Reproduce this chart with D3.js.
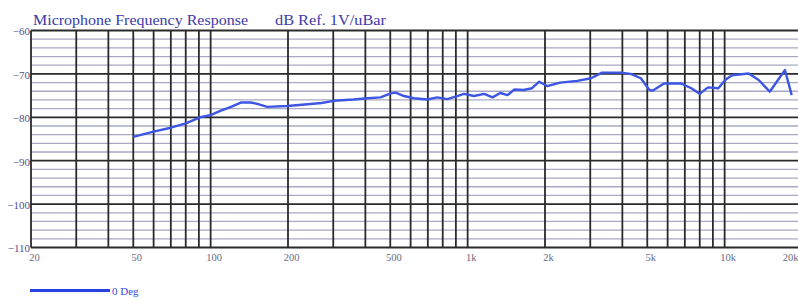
<!DOCTYPE html>
<html><head><meta charset="utf-8">
<script src="https://cdn.jsdelivr.net/npm/d3@7"></script>
<style>html,body{margin:0;padding:0;background:#fff;}svg{display:block;}</style>
</head><body>
<svg id="chart" width="798" height="300"></svg>
<script>
const titleText = "Microphone Frequency Response";
const unitText = "dB Ref. 1V/uBar";
const seriesName = "0 Deg";
const freqs = [50,60,70,80,91,100,109,120,131,143,152,166,199,238,270,301,360,407,458,502,525,565,618,697,762,833,910,968,1058,1160,1250,1340,1430,1520,1650,1780,1900,2040,2290,2670,3020,3330,3940,4310,4720,5080,5240,5810,6760,7420,8000,8610,9450,10050,10670,12400,13570,14980,17170,18230];
const dbValues = [-84.5,-83.3,-82.4,-81.4,-80.0,-79.5,-78.5,-77.6,-76.6,-76.6,-76.9,-77.6,-77.4,-77.0,-76.7,-76.2,-75.9,-75.6,-75.4,-74.5,-74.3,-75.1,-75.6,-75.9,-75.4,-75.8,-75.1,-74.6,-75.1,-74.6,-75.4,-74.4,-74.9,-73.6,-73.7,-73.3,-71.8,-72.8,-72.0,-71.6,-71.0,-69.7,-69.7,-70.0,-71.0,-73.6,-73.9,-72.2,-72.2,-73.3,-74.6,-73.1,-73.3,-71.4,-70.3,-69.9,-71.4,-74.1,-69.1,-74.9];
const xTickValues = [20,50,100,200,500,1000,2000,5000,10000,20000];
const xTickLabels = ["20","50","100","200","500","1k","2k","5k","10k","20k"];
const xGridValues = [20,30,40,50,60,70,80,90,100,200,300,400,500,600,700,800,900,1000,2000,3000,4000,5000,6000,7000,8000,9000,10000,20000];
const yMajor = [-60,-70,-80,-90,-100,-110];
const yMinor = [-62,-64,-66,-68,-72,-74,-76,-78,-82,-84,-86,-88,-92,-94,-96,-98,-102,-104,-106,-108];

const svg = d3.select("#chart");
const left = 31, decade = 257;
const x = d3.scaleLog().domain([20,20000]).range([left, left + 3*decade]);
const y = d3.scaleLinear().domain([-110,-60]).range([247.5,30.5]);

const g = svg.append("g");
g.selectAll("line.ymin").data(yMinor).join("line")
  .attr("x1", left).attr("x2", 800)
  .attr("y1", d=>y(d)).attr("y2", d=>y(d))
  .attr("stroke", "#a8a8c4").attr("stroke-width", 1.3);
g.selectAll("line.xg").data(xGridValues).join("line")
  .attr("x1", d=>x(d)).attr("x2", d=>x(d))
  .attr("y1", y(-60)).attr("y2", y(-110))
  .attr("stroke", "#2a2a2a").attr("stroke-width", 1.8);
g.selectAll("line.ymaj").data(yMajor).join("line")
  .attr("x1", left).attr("x2", 800)
  .attr("y1", d=>y(d)).attr("y2", d=>y(d))
  .attr("stroke", "#2a2a2a").attr("stroke-width", d => d === -110 ? 2.2 : 1.8);

const yAxis = d3.axisLeft(y).tickValues(yMajor).tickSize(0).tickPadding(1);
const ya = svg.append("g").attr("transform", `translate(${left},0)`).call(yAxis)
  .attr("font-family","Liberation Serif");
ya.select(".domain").remove();
ya.selectAll("text").attr("font-family","Liberation Serif").attr("font-size", 11)
  .attr("fill","#50508a").attr("dy","0.4em");

const xAxis = d3.axisBottom(x).tickValues(xTickValues).tickSize(0).tickPadding(6)
  .tickFormat((d,i)=>xTickLabels[i]);
const xa = svg.append("g").attr("transform", `translate(3,${y(-110)})`).call(xAxis)
  .attr("font-family","Liberation Serif");
xa.select(".domain").remove();
xa.selectAll("text").attr("font-family","Liberation Serif").attr("font-size", 10.5)
  .attr("fill","#6a6a80");
xa.selectAll(".tick").filter(d => d === 20000).select("text")
  .attr("text-anchor","end").attr("x", 798 - 3 - x(20000));

const line = d3.line().x(d=>x(d[0])).y(d=>y(d[1])).curve(d3.curveLinear);
const pts = freqs.map((f,i)=>[f, dbValues[i]]);
svg.append("path").datum(pts).attr("d", line)
  .attr("fill","none").attr("stroke","#3d56e4").attr("stroke-width",2.4)
  .attr("stroke-linejoin","round");

svg.append("text").attr("x", 33).attr("y", 25).text(titleText)
  .attr("font-family","Liberation Serif").attr("font-size", 15)
  .attr("textLength", 215).attr("lengthAdjust","spacingAndGlyphs")
  .attr("fill","#3a3aa8");
svg.append("text").attr("x", 275).attr("y", 25).text(unitText)
  .attr("font-family","Liberation Serif").attr("font-size", 15)
  .attr("textLength", 111).attr("lengthAdjust","spacingAndGlyphs")
  .attr("fill","#3a3aa8");

svg.append("line").attr("x1",30).attr("x2",110).attr("y1",290.5).attr("y2",290.5)
  .attr("stroke","#2b40e0").attr("stroke-width",3);
svg.append("text").attr("x",112).attr("y",294.5).text(seriesName)
  .attr("font-family","Liberation Serif").attr("font-size", 11)
  .attr("fill","#3a4ad8");
</script>
</body></html>
